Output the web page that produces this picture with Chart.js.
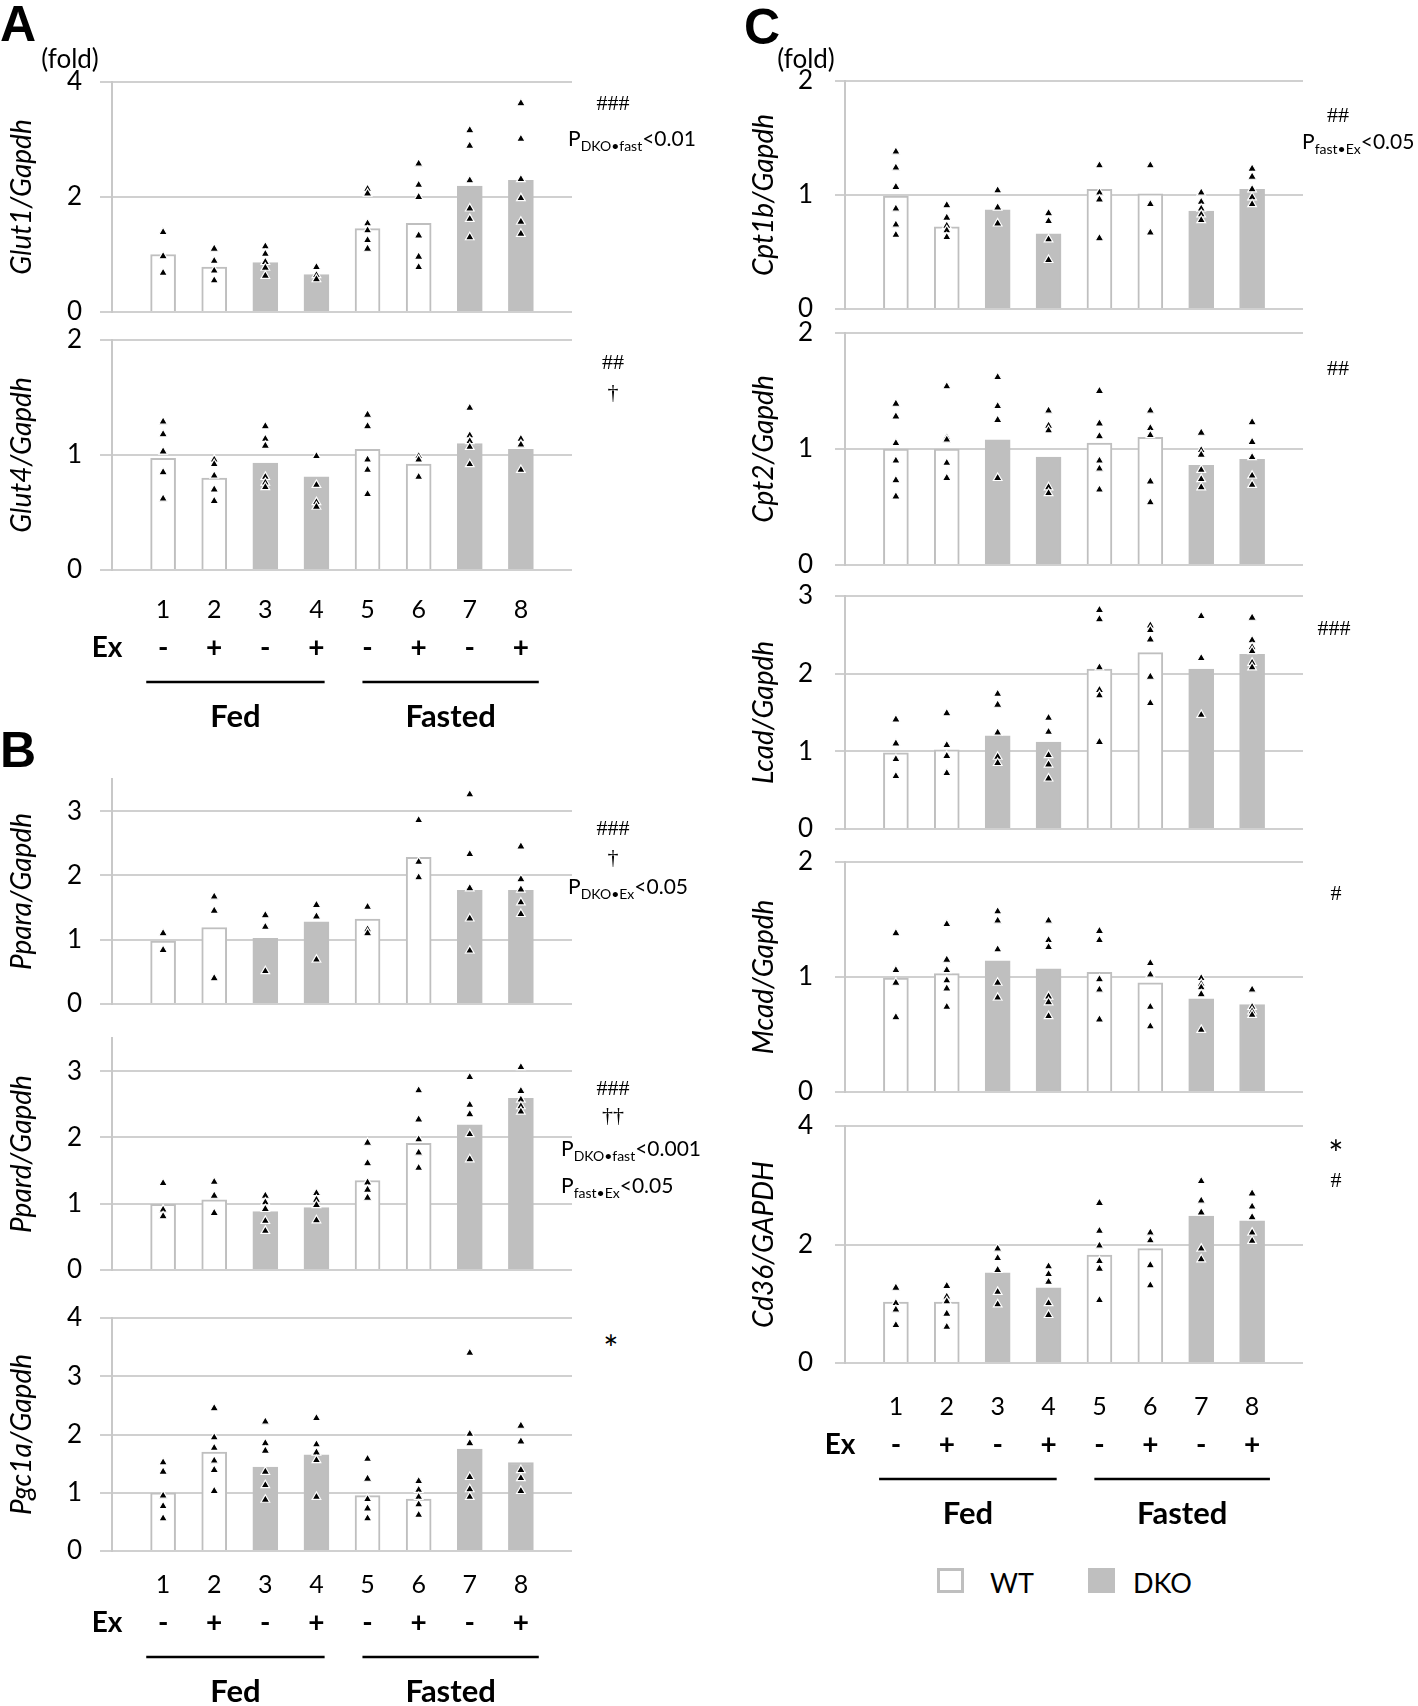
<!DOCTYPE html>
<html lang="en">
<head>
<meta charset="utf-8">
<title>Glut / Ppar / Cpt expression</title>
<script src="https://cdn.jsdelivr.net/npm/chart.js@4.4.1/dist/chart.umd.min.js"></script>
<style>
  html, body { margin: 0; padding: 0; background: #fff; }
  body { position: relative; width: 1418px; height: 1706px; overflow: hidden; font-family: Lato, "Open Sans", sans-serif; color: #000; }
  canvas { position: absolute; }
  .c, .l { position: absolute; white-space: nowrap; line-height: 1; }
  .c { transform: translate(-50%, -50%); }
  .l { transform: translateY(-50%); }
  .panel { font-family: Arial, "Liberation Sans", sans-serif; font-weight: bold; font-size: 50px; }
  .fold { font-size: 26px; }
  .sym { font-family: "Liberation Serif", "DejaVu Serif", serif; font-size: 22px; }
  .star { font-size: 36px; }
  .pval { font-size: 21px; }
  .pval sub { font-size: 14px; vertical-align: -5px; }
  .box { position: absolute; width: 27px; height: 25px; box-sizing: border-box; }
  .leg { font-size: 27px; }
</style>
</head>
<body>

<!-- panel letters -->
<div class="c panel" style="left:18px;top:24px">A</div>
<div class="c fold" style="left:70px;top:58px">(fold)</div>
<div class="c panel" style="left:18px;top:750px">B</div>
<div class="c panel" style="left:762px;top:27px">C</div>
<div class="c fold" style="left:806px;top:58px">(fold)</div>

<!-- statistik vlevo -->
<div class="c sym" style="left:613px;top:103px">###</div>
<div class="l pval" style="left:568px;top:140px">P<sub>DKO•fast</sub>&lt;0.01</div>
<div class="c sym" style="left:613px;top:362px">##</div>
<div class="c sym" style="left:613px;top:392px">†</div>
<div class="c sym" style="left:613px;top:828px">###</div>
<div class="c sym" style="left:613px;top:857px">†</div>
<div class="l pval" style="left:568px;top:888px">P<sub>DKO•Ex</sub>&lt;0.05</div>
<div class="c sym" style="left:613px;top:1088px">###</div>
<div class="c sym" style="left:613px;top:1115px">††</div>
<div class="l pval" style="left:561px;top:1150px">P<sub>DKO•fast</sub>&lt;0.001</div>
<div class="l pval" style="left:561px;top:1187px">P<sub>fast•Ex</sub>&lt;0.05</div>
<div class="c star" style="left:611px;top:1348px">*</div>

<!-- statistik vpravo -->
<div class="c sym" style="left:1338px;top:115px">##</div>
<div class="l pval" style="left:1302px;top:143px">P<sub>fast•Ex</sub>&lt;0.05</div>
<div class="c sym" style="left:1338px;top:368px">##</div>
<div class="c sym" style="left:1334px;top:628px">###</div>
<div class="c sym" style="left:1336px;top:893px">#</div>
<div class="c star" style="left:1336px;top:1153px">*</div>
<div class="c sym" style="left:1336px;top:1180px">#</div>

<!-- legenda -->
<div class="box" style="left:937px;top:1568px;border:3px solid #bfbfbf;background:#fff"></div>
<div class="l leg" id="legWT" style="left:990px;top:1582px"></div>
<div class="box" style="left:1088px;top:1568px;background:#bfbfbf"></div>
<div class="l leg" id="legDKO" style="left:1133px;top:1582px"></div>

<script>
// Skupiny a popisky
const groups = [1, 2, 3, 4, 5, 6, 7, 8];
const genotype = ['WT', 'WT', 'DKO', 'DKO', 'WT', 'WT', 'DKO', 'DKO'];
const exSigns = ['-', '+', '-', '+', '-', '+', '-', '+'];
const conditions = ['Fed', 'Fasted'];
const legendLabels = ['WT', 'DKO'];

// Glut1 / Glut4
const glut1Mean = [1.00, 0.78, 0.86, 0.65, 1.45, 1.54, 2.19, 2.29];
const glut1Pts = [
  [1.39, 0.97, 0.68],
  [1.10, 0.89, 0.72, 0.55],
  [1.14, 1.01, 0.87, 0.77, 0.63],
  [0.78, 0.64, 0.57],
  [2.14, 2.06, 1.54, 1.42, 1.25, 1.10],
  [2.58, 2.21, 2.00, 1.33, 0.96, 0.78],
  [3.16, 2.89, 2.29, 1.80, 1.62, 1.30],
  [3.63, 3.01, 2.31, 1.98, 1.57, 1.36]
];
const glut4Mean = [0.97, 0.80, 0.93, 0.81, 1.05, 0.92, 1.10, 1.05];
const glut4Pts = [
  [1.29, 1.18, 1.03, 0.85, 0.62],
  [0.96, 0.92, 0.82, 0.70, 0.60],
  [1.25, 1.14, 1.08, 0.81, 0.76, 0.72],
  [0.99, 0.74, 0.59, 0.55],
  [1.35, 1.25, 0.96, 0.87, 0.66],
  [0.99, 0.96, 0.81],
  [1.41, 1.17, 1.12, 1.07, 0.92],
  [1.14, 1.09, 0.87]
];

// Ppara / Ppard / Pgc1a
const pparaMean = [0.98, 1.19, 1.02, 1.28, 1.32, 2.28, 1.77, 1.77];
const pparaPts = [
  [1.10, 0.84],
  [1.67, 1.45, 0.40],
  [1.38, 1.20, 0.51],
  [1.54, 1.36, 0.69],
  [1.51, 1.16, 1.10],
  [2.86, 2.21, 1.97],
  [3.26, 2.33, 1.80, 1.33, 0.83],
  [2.45, 1.94, 1.78, 1.58, 1.40]
];
const ppardMean = [0.99, 1.06, 0.88, 0.94, 1.35, 1.91, 2.19, 2.59];
const ppardPts = [
  [1.31, 0.91, 0.81],
  [1.33, 1.12, 0.86],
  [1.12, 1.02, 0.92, 0.74, 0.59],
  [1.16, 1.06, 0.98, 0.75],
  [1.92, 1.61, 1.32, 1.21, 1.09],
  [2.71, 2.27, 1.97, 1.77, 1.54],
  [2.91, 2.49, 2.35, 2.05, 1.67],
  [3.06, 2.70, 2.57, 2.47, 2.39]
];
const pgc1aMean = [1.00, 1.70, 1.44, 1.65, 0.95, 0.89, 1.75, 1.52];
const pgc1aPts = [
  [1.52, 1.36, 0.95, 0.77, 0.56],
  [2.45, 1.95, 1.77, 1.55, 1.39, 1.03],
  [2.22, 1.85, 1.72, 1.36, 1.13, 0.88],
  [2.28, 1.83, 1.69, 1.56, 0.93],
  [1.58, 1.24, 0.89, 0.73, 0.56],
  [1.20, 1.05, 0.93, 0.80, 0.62],
  [3.40, 2.01, 1.85, 1.27, 1.06, 0.93],
  [2.15, 1.88, 1.39, 1.25, 1.03]
];

// Cpt1b / Cpt2 / Lcad / Mcad / Cd36
const cpt1bMean = [0.99, 0.72, 0.87, 0.66, 1.05, 1.01, 0.86, 1.05];
const cpt1bPts = [
  [1.38, 1.24, 1.07, 0.88, 0.74, 0.65],
  [0.91, 0.80, 0.73, 0.69, 0.63],
  [1.04, 0.89, 0.75],
  [0.84, 0.77, 0.61, 0.43],
  [1.26, 1.02, 0.96, 0.62],
  [1.26, 0.92, 0.67],
  [1.02, 0.94, 0.88, 0.83, 0.78],
  [1.23, 1.16, 1.05, 0.98, 0.92]
];
const cpt2Mean = [1.00, 1.00, 1.08, 0.93, 1.05, 1.10, 0.86, 0.91];
const cpt2Pts = [
  [1.39, 1.28, 1.05, 0.90, 0.73, 0.59],
  [1.54, 1.10, 1.08, 0.88, 0.75],
  [1.62, 1.37, 1.25, 0.75],
  [1.33, 1.20, 1.16, 0.67, 0.62],
  [1.50, 1.22, 1.11, 0.90, 0.83, 0.65],
  [1.33, 1.18, 1.12, 0.72, 0.54],
  [1.14, 0.99, 0.95, 0.82, 0.74, 0.67],
  [1.23, 1.06, 0.93, 0.77, 0.69]
];
const lcadMean = [0.98, 1.02, 1.20, 1.12, 2.06, 2.27, 2.06, 2.25];
const lcadPts = [
  [1.41, 1.10, 0.90, 0.68],
  [1.49, 1.08, 0.94, 0.72],
  [1.74, 1.60, 1.24, 0.93, 0.85],
  [1.43, 1.25, 0.95, 0.83, 0.65],
  [2.82, 2.70, 2.08, 1.79, 1.72, 1.12],
  [2.62, 2.56, 2.44, 1.96, 1.62],
  [2.74, 2.20, 1.47],
  [2.72, 2.43, 2.34, 2.29, 2.14, 2.08]
];
const mcadMean = [0.99, 1.03, 1.14, 1.07, 1.04, 0.95, 0.81, 0.76];
const mcadPts = [
  [1.38, 1.06, 0.95, 0.65],
  [1.46, 1.15, 1.06, 0.97, 0.90, 0.74],
  [1.57, 1.49, 1.24, 0.95, 0.82],
  [1.49, 1.32, 1.26, 0.83, 0.78, 0.66],
  [1.40, 1.32, 0.98, 0.89, 0.63],
  [1.12, 1.02, 0.74, 0.57],
  [0.99, 0.94, 0.91, 0.85, 0.54],
  [0.89, 0.74, 0.70, 0.67]
];
const cd36Mean = [1.03, 1.03, 1.52, 1.27, 1.82, 1.93, 2.48, 2.40];
const cd36Pts = [
  [1.27, 1.01, 0.90, 0.64],
  [1.30, 1.12, 1.04, 0.83, 0.61],
  [1.93, 1.77, 1.57, 1.20, 0.99],
  [1.63, 1.50, 1.37, 1.01, 0.81],
  [2.70, 2.23, 1.98, 1.72, 1.59, 1.06],
  [2.20, 2.07, 1.65, 1.31],
  [3.07, 2.74, 2.54, 1.93, 1.75],
  [2.86, 2.64, 2.46, 2.20, 2.06]
];

const GRAY = '#bfbfbf';

// Rozložení sloupců (px)
const cols = {
  L: { x0: 0, axis: 112, right: 572, titleX: 22, tick: 12, tickPad: 18 },
  R: { x0: 730, axis: 845, right: 1303, titleX: 764, tick: 10, tickPad: 22 }
};

const panels = [
  { col: 'L', top: 82, bottom: 312, max: 4, step: 2, title: 'Glut1/Gapdh', mean: glut1Mean, pts: glut1Pts },
  { col: 'L', top: 340, bottom: 570, max: 2, step: 1, title: 'Glut4/Gapdh', mean: glut4Mean, pts: glut4Pts, axisLabels: true, shift: 0 },
  { col: 'L', top: 779, bottom: 1004, max: 3.5, step: 1, title: 'Ppara/Gapdh', mean: pparaMean, pts: pparaPts },
  { col: 'L', top: 1038, bottom: 1270, max: 3.5, step: 1, title: 'Ppard/Gapdh', mean: ppardMean, pts: ppardPts },
  { col: 'L', top: 1318, bottom: 1551, max: 4, step: 1, title: 'Pgc1a/Gapdh', mean: pgc1aMean, pts: pgc1aPts, axisLabels: true, shift: -6 },
  { col: 'R', top: 81, bottom: 309, max: 2, step: 1, title: 'Cpt1b/Gapdh', mean: cpt1bMean, pts: cpt1bPts },
  { col: 'R', top: 333, bottom: 565, max: 2, step: 1, title: 'Cpt2/Gapdh', mean: cpt2Mean, pts: cpt2Pts },
  { col: 'R', top: 596, bottom: 829, max: 3, step: 1, title: 'Lcad/Gapdh', mean: lcadMean, pts: lcadPts },
  { col: 'R', top: 862, bottom: 1092, max: 2, step: 1, title: 'Mcad/Gapdh', mean: mcadMean, pts: mcadPts },
  { col: 'R', top: 1126, bottom: 1363, max: 4, step: 2, title: 'Cd36/GAPDH', mean: cd36Mean, pts: cd36Pts, axisLabels: true, shift: 4 }
];

// Řádek Ex +/- a čáry Fed / Fasted pod grafem
const groupLabels = {
  id: 'groupLabels',
  afterDraw(chart, args, opts) {
    if (!opts.show) return;
    const ctx = chart.ctx;
    const x = chart.scales.x;
    const y0 = chart.scales.y.getPixelForValue(0) + opts.shift;
    ctx.save();
    ctx.fillStyle = '#000';
    ctx.strokeStyle = '#000';
    ctx.textAlign = 'center';
    ctx.textBaseline = 'middle';
    ctx.font = 'bold 28px Lato, sans-serif';
    ctx.fillText('Ex', x.getPixelForValue(0) - 5, y0 + 78);
    exSigns.forEach((s, i) => ctx.fillText(s, x.getPixelForValue(groups[i]), y0 + 78));

    // rozsah čar v jednotkách osy x
    const spans = [[0.67, 4.16], [4.9, 8.35]];
    ctx.lineWidth = 2.5;
    ctx.font = 'bold 31px Lato, sans-serif';
    conditions.forEach((name, i) => {
      const a = x.getPixelForValue(spans[i][0]);
      const b = x.getPixelForValue(spans[i][1]);
      ctx.beginPath();
      ctx.moveTo(a, y0 + 112);
      ctx.lineTo(b, y0 + 112);
      ctx.stroke();
      ctx.fillText(name, (a + b) / 2, y0 + 147);
    });
    ctx.restore();
  }
};

Chart.defaults.font.family = 'Lato, "Open Sans", sans-serif';
Chart.defaults.color = '#000';

function drawPanel(p) {
  const col = cols[p.col];
  const padTop = 40, padRight = 30;
  const xAxisH = p.axisLabels ? 60 : 0;
  const padBottom = p.axisLabels ? 110 : 40;
  const shift = p.shift || 0;

  const canvas = document.createElement('canvas');
  canvas.width = col.right + padRight - col.x0;
  canvas.height = (p.bottom - p.top) + padTop + padBottom + xAxisH;
  canvas.style.left = col.x0 + 'px';
  canvas.style.top = (p.top - padTop) + 'px';
  document.body.insertBefore(canvas, document.body.firstChild);

  const bars = p.mean.map((v, i) => ({ x: groups[i], y: v }));
  const dots = p.pts.flatMap((arr, i) => arr.map(v => ({ x: groups[i], y: v })));

  new Chart(canvas, {
    type: 'bar',
    data: {
      datasets: [
        {
          type: 'scatter',
          data: dots,
          pointStyle: 'triangle',
          pointRadius: 5,
          backgroundColor: '#000',
          borderColor: '#fff',
          borderWidth: 1.2,
          order: 0
        },
        {
          type: 'bar',
          data: bars,
          backgroundColor: genotype.map(g => g === 'WT' ? '#fff' : GRAY),
          borderColor: GRAY,
          borderWidth: 2,
          barThickness: 25,
          order: 1
        }
      ]
    },
    options: {
      responsive: false,
      animation: false,
      layout: { padding: { top: padTop, right: padRight, bottom: padBottom, left: 0 } },
      plugins: {
        legend: { display: false },
        tooltip: { enabled: false },
        groupLabels: { show: !!p.axisLabels, shift: shift }
      },
      scales: {
        x: {
          type: 'linear',
          offset: false,
          min: 0,
          max: 9,
          display: !!p.axisLabels,
          grid: { display: false, drawTicks: false, offset: false },
          border: { display: false },
          ticks: {
            stepSize: 1,
            padding: 25 + shift,
            autoSkip: false,
            maxRotation: 0,
            font: { size: 25 },
            callback: v => (v >= 1 && v <= 8) ? String(groups[v - 1]) : ''
          },
          afterFit: s => { s.height = xAxisH; }
        },
        y: {
          min: 0,
          max: p.max,
          grid: { color: '#d0d0d0', lineWidth: 2, tickLength: col.tick, drawTicks: true },
          border: { color: '#c8c8c8', width: 2 },
          ticks: { stepSize: p.step, includeBounds: false, padding: col.tickPad, font: { size: 26 } },
          title: {
            display: true,
            text: p.title,
            font: { size: 28, style: 'italic' },
            padding: { top: col.titleX - col.x0 - 16.8, bottom: 0 }
          },
          afterFit: s => { s.width = col.axis - col.x0; }
        }
      }
    },
    plugins: [groupLabels]
  });
}

document.addEventListener('DOMContentLoaded', () => {
  document.getElementById('legWT').textContent = legendLabels[0];
  document.getElementById('legDKO').textContent = legendLabels[1];
  panels.forEach(drawPanel);
});
</script>
</body>
</html>
